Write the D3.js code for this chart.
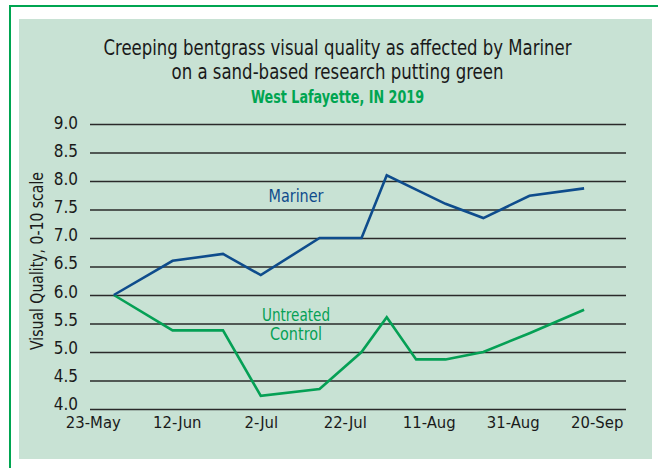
<!DOCTYPE html>
<html lang="en">
<head>
<meta charset="UTF-8">
<title>Creeping bentgrass visual quality</title>
<script src="https://d3js.org/d3.v7.min.js"></script>
<style>
  body { margin: 0; background: #fff; }
  svg text { font-family: "DejaVu Sans Condensed", "Liberation Sans Narrow", sans-serif; }
</style>
</head>
<body>
<svg width="658" height="468"></svg>
<script>
// rating dates and visual quality (0-10)
const dates = ['2019-05-28', '2019-06-11', '2019-06-23', '2019-07-02', '2019-07-16', '2019-07-26',
  '2019-08-01', '2019-08-08', '2019-08-15', '2019-08-24', '2019-09-04', '2019-09-17'];
const mariner = [6.0, 6.6, 6.72, 6.35, 7.0, 7.0, 8.1, 7.85, 7.6, 7.35, 7.74, 7.87];
const control = [6.0, 5.38, 5.38, 4.23, 4.35, 5.0, 5.61, 4.87, 4.87, 5.0, 5.33, 5.74];

const xTickLabels = ['23-May', '12-Jun', '2-Jul', '22-Jul', '11-Aug', '31-Aug', '20-Sep'];
const yTicks = [4.0, 4.5, 5.0, 5.5, 6.0, 6.5, 7.0, 7.5, 8.0, 8.5, 9.0];

const parseDate = d3.timeParse('%Y-%m-%d');
const parseTick = d3.timeParse('%d-%b-%Y');
const tickDates = xTickLabels.map(t => parseTick(t + '-2019'));

const blue = '#0e4c8c';
const green = '#05a055';
const ink = '#1a1a1a';

const svg = d3.select('svg');

// outer frame
svg.append('rect')
  .attr('x', 10).attr('y', 6)
  .attr('width', 700).attr('height', 500)
  .attr('fill', '#fff')
  .attr('stroke', '#00a551')
  .attr('stroke-width', 2);

// panel
svg.append('rect')
  .attr('x', 19).attr('y', 19)
  .attr('width', 633).attr('height', 440)
  .attr('fill', '#c8e2d4');

const plotLeft = 90, plotRight = 626, plotTop = 124, plotBottom = 409;

const x = d3.scaleTime()
  .domain([tickDates[0], tickDates[tickDates.length - 1]])
  .range([92.8, 596.7]);

const y = d3.scaleLinear()
  .domain([4, 9])
  .range([plotBottom, plotTop]);

// tick labels sit on a slightly tighter spacing than the grid
const yLabel = d3.scaleLinear()
  .domain([4, 9])
  .range([plotBottom - 5, plotTop - 1]);

// grid
const grid = svg.append('g')
  .attr('transform', `translate(${plotLeft},0)`)
  .call(d3.axisLeft(y)
    .tickValues(yTicks)
    .tickSize(-(plotRight - plotLeft))
    .tickFormat(''));
grid.select('.domain').remove();
grid.selectAll('line')
  .attr('stroke', '#2a2a2a')
  .attr('stroke-width', 1.3);

// y labels
const yAxis = svg.append('g')
  .attr('transform', `translate(${plotLeft - 12},0)`)
  .call(d3.axisLeft(yLabel)
    .tickValues(yTicks)
    .tickSize(0)
    .tickPadding(0)
    .tickFormat(d3.format('.1f')));
yAxis.select('.domain').remove();
yAxis.selectAll('text')
  .attr('font-size', 17)
  .attr('fill', ink);

// x labels
const xAxis = svg.append('g')
  .attr('transform', `translate(0,${plotBottom})`)
  .call(d3.axisBottom(x)
    .tickValues(tickDates)
    .tickSize(0)
    .tickFormat((d, i) => xTickLabels[i]));
xAxis.select('.domain').remove();
xAxis.selectAll('text')
  .attr('y', 19)
  .attr('dy', 0)
  .attr('font-size', 16.5)
  .attr('fill', ink);

// y axis title
svg.append('text')
  .attr('transform', 'translate(43,261) rotate(-90)')
  .attr('text-anchor', 'middle')
  .attr('font-size', 17)
  .attr('textLength', 178)
  .attr('lengthAdjust', 'spacingAndGlyphs')
  .attr('fill', ink)
  .text('Visual Quality, 0-10 scale');

// lines
const line = d3.line()
  .x((d, i) => x(parseDate(dates[i])))
  .y(d => y(d));

svg.append('path')
  .datum(control)
  .attr('d', line)
  .attr('fill', 'none')
  .attr('stroke', green)
  .attr('stroke-width', 2.6);

svg.append('path')
  .datum(mariner)
  .attr('d', line)
  .attr('fill', 'none')
  .attr('stroke', blue)
  .attr('stroke-width', 2.6);

// series labels
function label(txt, cx, cy, len, color) {
  svg.append('text')
    .attr('x', cx).attr('y', cy)
    .attr('text-anchor', 'middle')
    .attr('font-size', 18)
    .attr('textLength', len)
    .attr('lengthAdjust', 'spacingAndGlyphs')
    .attr('fill', color)
    .text(txt);
}
label('Mariner', 296, 201.5, 55, blue);
label('Untreated', 296, 321, 68, green);
label('Control', 296, 340, 52, green);

// titles
svg.append('text')
  .attr('x', 337.5).attr('y', 55)
  .attr('text-anchor', 'middle')
  .attr('font-size', 20.5)
  .attr('textLength', 468)
  .attr('lengthAdjust', 'spacingAndGlyphs')
  .attr('fill', ink)
  .text('Creeping bentgrass visual quality as affected by Mariner');

svg.append('text')
  .attr('x', 337.5).attr('y', 79)
  .attr('text-anchor', 'middle')
  .attr('font-size', 20.5)
  .attr('textLength', 332)
  .attr('lengthAdjust', 'spacingAndGlyphs')
  .attr('fill', ink)
  .text('on a sand-based research putting green');

svg.append('text')
  .attr('x', 337.5).attr('y', 103)
  .attr('text-anchor', 'middle')
  .attr('font-size', 17)
  .attr('font-weight', 'bold')
  .attr('textLength', 173)
  .attr('lengthAdjust', 'spacingAndGlyphs')
  .attr('fill', '#00a551')
  .text('West Lafayette, IN 2019');
</script>
</body>
</html>
